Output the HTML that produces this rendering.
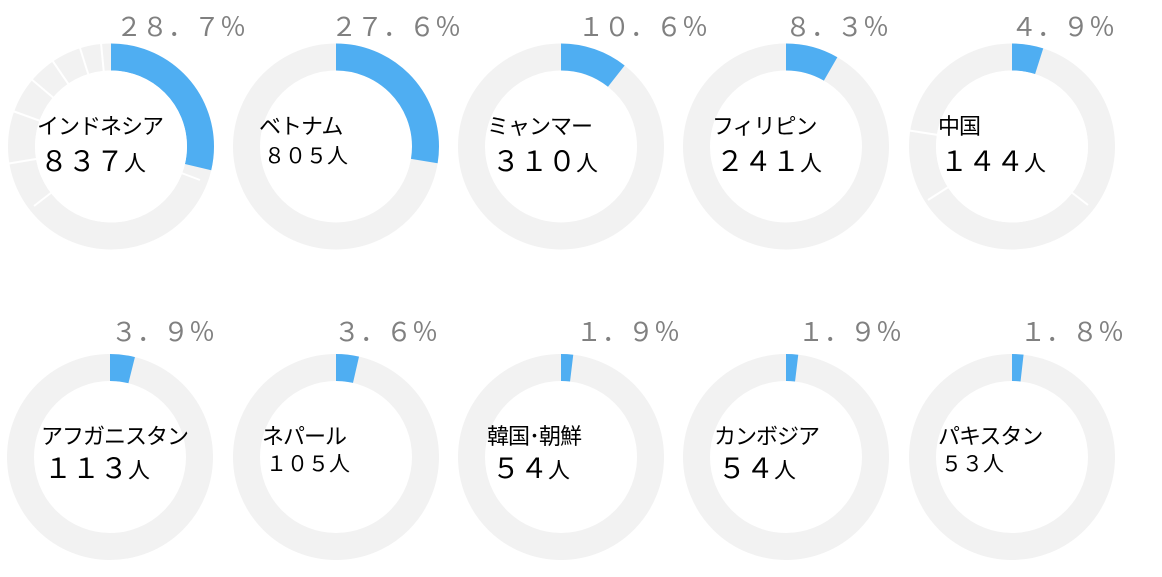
<!DOCTYPE html>
<html><head><meta charset="utf-8"><style>
html,body{margin:0;padding:0;background:#fff;width:1162px;height:577px;overflow:hidden}
svg{display:block}
.p{font-family:"Liberation Sans","Noto Sans CJK JP",sans-serif;font-size:26px;fill:#808080}
.n{font-family:"Liberation Sans","Noto Sans CJK JP",sans-serif;font-size:22px;fill:#000;letter-spacing:-1px}
.v{font-family:"Liberation Sans","Noto Sans CJK JP",sans-serif;font-size:28px;fill:#000}
.vs{font-family:"Liberation Sans","Noto Sans CJK JP",sans-serif;font-size:21px;fill:#000}
.u{font-size:22px}
</style></head><body>
<svg width="1162" height="577" viewBox="0 0 1162 577">
<g fill="none" stroke-width="27">
<circle cx="111" cy="146.5" r="89.5" stroke="#f2f2f2"/>
<circle cx="111" cy="146.5" r="89.5" stroke="#4faef2" stroke-dasharray="161.4 600" transform="rotate(-90 111 146.5)"/>
<circle cx="336" cy="146.5" r="89.5" stroke="#f2f2f2"/>
<circle cx="336" cy="146.5" r="89.5" stroke="#4faef2" stroke-dasharray="155.2 600" transform="rotate(-90 336 146.5)"/>
<circle cx="561" cy="146.5" r="89.5" stroke="#f2f2f2"/>
<circle cx="561" cy="146.5" r="89.5" stroke="#4faef2" stroke-dasharray="59.6 600" transform="rotate(-90 561 146.5)"/>
<circle cx="786" cy="146.5" r="89.5" stroke="#f2f2f2"/>
<circle cx="786" cy="146.5" r="89.5" stroke="#4faef2" stroke-dasharray="46.7 600" transform="rotate(-90 786 146.5)"/>
<circle cx="1012" cy="146.5" r="89.5" stroke="#f2f2f2"/>
<circle cx="1012" cy="146.5" r="89.5" stroke="#4faef2" stroke-dasharray="27.6 600" transform="rotate(-90 1012 146.5)"/>

<circle cx="110" cy="457" r="89.5" stroke="#f2f2f2"/>
<circle cx="110" cy="457" r="89.5" stroke="#4faef2" stroke-dasharray="21.9 600" transform="rotate(-90 110 457)"/>
<circle cx="336" cy="457" r="89.5" stroke="#f2f2f2"/>
<circle cx="336" cy="457" r="89.5" stroke="#4faef2" stroke-dasharray="20.2 600" transform="rotate(-90 336 457)"/>
<circle cx="561" cy="457" r="89.5" stroke="#f2f2f2"/>
<circle cx="561" cy="457" r="89.5" stroke="#4faef2" stroke-dasharray="10.7 600" transform="rotate(-90 561 457)"/>
<circle cx="786" cy="457" r="89.5" stroke="#f2f2f2"/>
<circle cx="786" cy="457" r="89.5" stroke="#4faef2" stroke-dasharray="10.7 600" transform="rotate(-90 786 457)"/>
<circle cx="1012" cy="457" r="89.5" stroke="#f2f2f2"/>
<circle cx="1012" cy="457" r="89.5" stroke="#4faef2" stroke-dasharray="10.1 600" transform="rotate(-90 1012 457)"/>
</g>
<g stroke="#fff" stroke-width="2">
<line x1="111" y1="146.5" x2="34" y2="206" /><line x1="111" y1="146.5" x2="6" y2="164"/><line x1="111" y1="146.5" x2="10" y2="110"/><line x1="111" y1="146.5" x2="30" y2="78"/><line x1="111" y1="146.5" x2="52" y2="60"/><line x1="111" y1="146.5" x2="80" y2="48"/><line x1="111" y1="146.5" x2="101" y2="43"/>
<line x1="111" y1="146.5" x2="200" y2="180"/>
<line x1="1012" y1="146.5" x2="1088" y2="205"/><line x1="1012" y1="146.5" x2="928" y2="200"/><line x1="1012" y1="146.5" x2="906" y2="130"/>
</g>
<circle cx="111" cy="146.5" r="76" fill="#fff"/>
<circle cx="1012" cy="146.5" r="76" fill="#fff"/>

<text class="p" x="116" y="36">２８．７％</text>
<text class="p" x="331" y="36">２７．６％</text>
<text class="p" x="578" y="36">１０．６％</text>
<text class="p" x="785" y="36">８．３％</text>
<text class="p" x="1011" y="36">４．９％</text>
<text class="p" x="111" y="341">３．９％</text>
<text class="p" x="334" y="341">３．６％</text>
<text class="p" x="576" y="341">１．９％</text>
<text class="p" x="798" y="341">１．９％</text>
<text class="p" x="1020" y="341">１．８％</text>

<text class="n" x="37" y="134">インドネシア</text>
<text class="v" x="40" y="171">８３７<tspan class="u">人</tspan></text>
<text class="n" x="259" y="134">ベトナム</text>
<text class="vs" x="264" y="163">８０５人</text>
<text class="n" x="487" y="134">ミャンマー</text>
<text class="v" x="492" y="171">３１０<tspan class="u">人</tspan></text>
<text class="n" x="712" y="134">フィリピン</text>
<text class="v" x="716" y="171">２４１<tspan class="u">人</tspan></text>
<text class="n" x="938" y="134">中国</text>
<text class="v" x="940" y="171">１４４<tspan class="u">人</tspan></text>

<text class="n" x="41" y="444">アフガニスタン</text>
<text class="v" x="44" y="478">１１３<tspan class="u">人</tspan></text>
<text class="n" x="262" y="444">ネパール</text>
<text class="vs" x="266" y="471">１０５人</text>
<text class="n" x="487" y="444">韓国･朝鮮</text>
<text class="v" x="492" y="478">５４<tspan class="u">人</tspan></text>
<text class="n" x="714" y="444">カンボジア</text>
<text class="v" x="718" y="478">５４<tspan class="u">人</tspan></text>
<text class="n" x="938" y="444">パキスタン</text>
<text class="vs" x="941" y="471">５３人</text>
</svg>
</body></html>
